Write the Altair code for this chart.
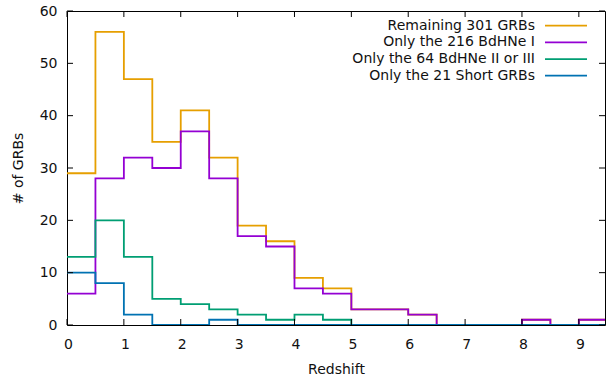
import altair as alt
import pandas as pd

# Bin left edges (bin width 0.5)
bin_edges = [0.0, 0.5, 1.0, 1.5, 2.0, 2.5, 3.0, 3.5, 4.0, 4.5, 5.0, 5.5, 6.0, 6.5,
             7.0, 7.5, 8.0, 8.5, 9.0, 9.5]

series_names = ["Remaining 301 GRBs", "Only the 216 BdHNe I",
                "Only the 64 BdHNe II or III", "Only the 21 Short GRBs"]
series_colors = ["#E69F00", "#9400D3", "#009E73", "#0072B2"]

remaining_301 = [29, 56, 47, 35, 41, 32, 19, 16, 9, 7, 3, 3, 2, 0, 0, 0, 1, 0, 1]
bdhne_1 = [6, 28, 32, 30, 37, 28, 17, 15, 7, 6, 3, 3, 2, 0, 0, 0, 1, 0, 1]
bdhne_2_3 = [13, 20, 13, 5, 4, 3, 2, 1, 2, 1, 0, 0, 0, 0, 0, 0, 0, 0, 0]
short_21 = [10, 8, 2, 0, 0, 1, 0, 0, 0, 0, 0, 0, 0, 0, 0, 0, 0, 0, 0]

x_ticks = [0, 1, 2, 3, 4, 5, 6, 7, 8, 9]
y_ticks = [0, 10, 20, 30, 40, 50, 60]

FONT = "DejaVu Sans"
W, H = 538, 314
XDOM = [0, 9.46]

x_scale = alt.Scale(domain=XDOM, nice=False, zero=False)
y_scale = alt.Scale(domain=[0, 60], nice=False)


def series_df(name, vals):
    ys = vals + [vals[-1]]
    return pd.DataFrame({"x": bin_edges, "count": ys, "series": name})


line_layers = []
for i, (name, vals) in enumerate(zip(series_names,
                                     [remaining_301, bdhne_1, bdhne_2_3, short_21])):
    df = series_df(name, vals)
    enc = dict(
        x=alt.X("x:Q", scale=x_scale,
                axis=alt.Axis(values=x_ticks, format="d", title="Redshift",
                              ticks=False, domain=False, grid=False,
                              labelFlush=False, labelOffset=1,
                              labelFont=FONT, labelFontSize=14, labelColor="#111",
                              labelPadding=12, titleFont=FONT, titleFontSize=14,
                              titleFontWeight="normal", titleColor="#111",
                              titlePadding=11)),
        y=alt.Y("count:Q", scale=y_scale,
                axis=alt.Axis(values=y_ticks, format="d", title="# of GRBs",
                              ticks=False, domain=False, grid=False,
                              labelFont=FONT, labelFontSize=14, labelColor="#111",
                              labelPadding=10, titleFont=FONT, titleFontSize=14,
                              titleFontWeight="normal", titleColor="#111",
                              titlePadding=14)),
    )
    line_layers.append(
        alt.Chart(df).mark_line(interpolate="step-after", color=series_colors[i],
                                strokeWidth=1.8, clip=True).encode(**enc)
    )

xt = pd.DataFrame({"x": x_ticks})
yt = pd.DataFrame({"count": y_ticks})

tick_layers = [
    alt.Chart(xt).mark_rule(color="black", strokeWidth=1).encode(
        x=alt.X("x:Q", scale=x_scale), y=alt.value(H), y2=alt.value(H - 6)),
    alt.Chart(xt).mark_rule(color="black", strokeWidth=1).encode(
        x=alt.X("x:Q", scale=x_scale), y=alt.value(0), y2=alt.value(6)),
    alt.Chart(yt).mark_rule(color="black", strokeWidth=1).encode(
        y=alt.Y("count:Q", scale=y_scale), x=alt.value(0), x2=alt.value(6)),
    alt.Chart(yt).mark_rule(color="black", strokeWidth=1).encode(
        y=alt.Y("count:Q", scale=y_scale), x=alt.value(W), x2=alt.value(W - 6)),
]

main = alt.layer(*line_layers, *tick_layers)

leg_df = pd.DataFrame({"series": series_names, "row": [0, 1, 2, 3]})
leg_y = alt.Y("row:O", scale=alt.Scale(type="point", domain=[0, 1, 2, 3],
                                       range=[14.7, 64.7], padding=0), axis=None)
leg_text = alt.Chart(leg_df).mark_text(align="right", baseline="middle", font=FONT,
                                       fontSize=14, color="#111").encode(
    x=alt.value(468), y=leg_y, text="series:N")
leg_line = alt.Chart(leg_df).mark_rule(strokeWidth=1.8).encode(
    x=alt.value(478), x2=alt.value(520), y=leg_y,
    color=alt.Color("series:N", scale=alt.Scale(domain=series_names, range=series_colors),
                    legend=None))
legend = alt.layer(leg_text, leg_line)

chart = alt.layer(main, legend).resolve_scale(y="independent").properties(
    width=W, height=H,
    autosize=alt.AutoSizeParams(type="none"),
    padding={"left": 67, "top": 11, "right": 1, "bottom": 53},
    background="white",
).configure_view(stroke="black", strokeWidth=1)

chart.save("out.html", embed_options={"renderer": "svg", "actions": False})
